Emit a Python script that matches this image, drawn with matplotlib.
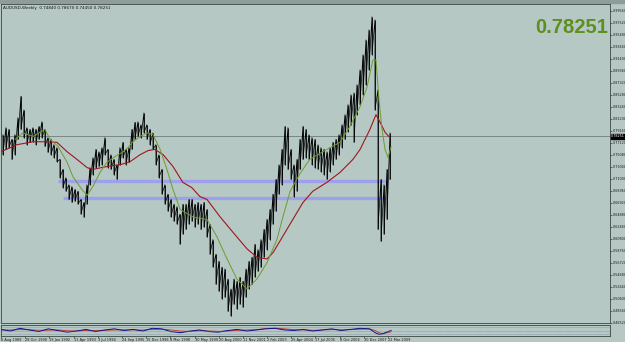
import numpy as np
import matplotlib.pyplot as plt

# MT4-ish colours
BG_COLOR = '#b5c8c4'
FRAME_COLOR = '#8e9d9b'
BAR_COLOR = '#000000'
FAST_MA_COLOR = '#6f9a2e'
SLOW_MA_COLOR = '#a0161c'
LEVEL_COLOR = '#9d9cf0'
BIG_PRICE_COLOR = '#5e8f1f'

# weekly AUDUSD, sampled roughly every 8 weeks from 6 Aug 1989 (week 0)
bar_high = [0.785, 0.797, 0.794, 0.777, 0.785, 0.814, 0.850, 0.827, 0.797, 0.794,
            0.797, 0.794, 0.799, 0.807, 0.794, 0.780, 0.777, 0.768, 0.763, 0.743,
            0.726, 0.712, 0.700, 0.697, 0.692, 0.689, 0.675, 0.670, 0.700, 0.729,
            0.746, 0.760, 0.756, 0.763, 0.780, 0.760, 0.751, 0.743, 0.734, 0.763,
            0.772, 0.760, 0.763, 0.794, 0.806, 0.807, 0.802, 0.822, 0.802, 0.794,
            0.788, 0.768, 0.751, 0.726, 0.700, 0.684, 0.675, 0.667, 0.663, 0.650,
            0.667, 0.667, 0.675, 0.675, 0.667, 0.670, 0.667, 0.670, 0.658, 0.633,
            0.607, 0.582, 0.570, 0.560, 0.557, 0.540, 0.523, 0.540, 0.536, 0.543,
            0.536, 0.557, 0.570, 0.577, 0.599, 0.590, 0.607, 0.624, 0.641, 0.658,
            0.684, 0.709, 0.734, 0.760, 0.799, 0.797, 0.760, 0.734, 0.743, 0.777,
            0.799, 0.794, 0.785, 0.780, 0.777, 0.768, 0.763, 0.760, 0.756, 0.763,
            0.772, 0.777, 0.785, 0.802, 0.819, 0.836, 0.853, 0.856, 0.870, 0.895,
            0.921, 0.946, 0.963, 0.985, 0.980, 0.861, 0.709, 0.700, 0.726, 0.788]
bar_low = [0.751, 0.760, 0.763, 0.743, 0.751, 0.777, 0.794, 0.780, 0.768, 0.772,
           0.773, 0.768, 0.777, 0.780, 0.765, 0.755, 0.751, 0.746, 0.739, 0.712,
           0.695, 0.689, 0.675, 0.670, 0.672, 0.667, 0.650, 0.645, 0.667, 0.700,
           0.717, 0.729, 0.731, 0.734, 0.751, 0.729, 0.726, 0.717, 0.709, 0.734,
           0.746, 0.734, 0.738, 0.760, 0.777, 0.782, 0.780, 0.788, 0.777, 0.768,
           0.760, 0.734, 0.712, 0.684, 0.667, 0.655, 0.645, 0.638, 0.633, 0.599,
           0.616, 0.624, 0.633, 0.638, 0.628, 0.633, 0.624, 0.628, 0.611, 0.582,
           0.560, 0.531, 0.519, 0.506, 0.509, 0.485, 0.477, 0.497, 0.489, 0.497,
           0.492, 0.509, 0.523, 0.531, 0.543, 0.553, 0.560, 0.577, 0.590, 0.607,
           0.633, 0.655, 0.684, 0.700, 0.734, 0.726, 0.709, 0.680, 0.689, 0.726,
           0.743, 0.746, 0.743, 0.734, 0.729, 0.726, 0.722, 0.717, 0.709, 0.722,
           0.734, 0.743, 0.751, 0.763, 0.777, 0.790, 0.802, 0.772, 0.819, 0.836,
           0.853, 0.870, 0.895, 0.921, 0.827, 0.624, 0.604, 0.616, 0.641, 0.709]
first_bar_week, last_bar_week = 5, 1029

# fast (green) and slow (red) moving averages
fast_ma_week = [37, 58, 85, 116, 130, 151, 175, 190, 214, 228, 243, 262, 280, 302, 323,
                336, 349, 368, 386, 402, 421, 439, 455, 474, 508, 545, 571, 598, 624,
                651, 677, 704, 730, 746, 765, 791, 817, 862, 897, 923, 950, 968, 984,
                992, 1000, 1008, 1016, 1024, 1032]
fast_ma = [0.777, 0.788, 0.782, 0.794, 0.777, 0.765, 0.738, 0.714, 0.692, 0.682, 0.697,
           0.721, 0.738, 0.748, 0.756, 0.763, 0.773, 0.782, 0.788, 0.785, 0.760, 0.726,
           0.692, 0.658, 0.645, 0.641, 0.612, 0.574, 0.540, 0.523, 0.540, 0.568, 0.607,
           0.646, 0.689, 0.719, 0.743, 0.760, 0.772, 0.799, 0.833, 0.865, 0.912, 0.912,
           0.844, 0.794, 0.760, 0.746, 0.765]
slow_ma_week = [0, 42, 85, 122, 148, 175, 201, 228, 243, 280, 315, 341, 368, 389, 407,
                429, 455, 481, 505, 526, 545, 579, 614, 651, 677, 704, 720, 746, 772,
                799, 825, 862, 897, 931, 950, 976, 992, 1003, 1016, 1029]
slow_ma = [0.756, 0.768, 0.773, 0.773, 0.772, 0.756, 0.743, 0.729, 0.726, 0.731, 0.734,
           0.739, 0.751, 0.758, 0.760, 0.751, 0.731, 0.704, 0.695, 0.680, 0.675, 0.646,
           0.619, 0.591, 0.577, 0.574, 0.585, 0.613, 0.641, 0.670, 0.689, 0.704, 0.721,
           0.743, 0.760, 0.794, 0.819, 0.806, 0.789, 0.780]

# two horizontal support bands (price, start week, end week)
level_price = [0.7057, 0.6776]
level_start = [151, 164]
level_end = [1016, 1021]

last_price = 0.78251
chart_title = "AUDUSD,Weekly  0.74840 0.78670 0.74450 0.78251"

price_ticks = ['0.46520', '0.48560', '0.50600', '0.52640', '0.54680', '0.56720', '0.58760',
               '0.60800', '0.62840', '0.64880', '0.66920', '0.68960', '0.71000', '0.73040',
               '0.75080', '0.77120', '0.79160', '0.81200', '0.83240', '0.85280', '0.87320',
               '0.89360', '0.91400', '0.93440', '0.95480', '0.97520', '0.99560']
date_ticks = ['6 Aug 1989', '28 Oct 1990', '19 Jan 1992', '11 Apr 1993', '3 Jul 1994',
              '24 Sep 1995', '15 Dec 1996', '8 Mar 1998', '30 May 1999', '20 Aug 2000',
              '11 Nov 2001', '2 Feb 2003', '25 Apr 2004', '17 Jul 2005', '8 Oct 2006',
              '30 Dec 2007', '22 Mar 2009']
date_tick_step = 64  # weeks between date labels

# oscillator in the lower sub-window
osc_week = [0, 25, 50, 75, 100, 125, 150, 175, 200, 225, 250, 275, 300, 325, 350, 375,
            400, 425, 450, 475, 500, 525, 550, 575, 600, 625, 650, 675, 700, 725, 750,
            775, 800, 825, 850, 875, 900, 925, 950, 975, 990, 1000, 1010, 1020, 1032]
osc_blue = [60, 45, 70, 55, 40, 65, 50, 35, 45, 60, 40, 55, 65, 50, 60, 45, 70, 65, 40, 30,
            45, 55, 40, 35, 50, 60, 45, 55, 65, 70, 55, 50, 60, 45, 55, 65, 50, 60, 70, 65,
            30, 15, 20, 35, 50]
osc_red = [55, 55, 58, 57, 52, 53, 55, 48, 46, 50, 50, 52, 55, 56, 55, 54, 60, 62, 55, 45,
           42, 48, 46, 42, 45, 52, 55, 58, 68, 72, 65, 58, 55, 52, 55, 58, 56, 58, 62, 64,
           50, 30, 22, 28, 38]


def main():
    fig = plt.figure(figsize=(6.25, 3.42), dpi=100)
    fig.patch.set_facecolor(BG_COLOR)

    W, H = 625.0, 342.0
    px_per_week = 0.378
    x_right = 609 / px_per_week

    ax = fig.add_axes([1 / W, 1 - 323 / H, 609 / W, 319 / H])
    sub = fig.add_axes([1 / W, 1 - 336 / H, 609 / W, 11 / H], sharex=ax)
    for a in (ax, sub):
        a.set_facecolor(BG_COLOR)
        for s in a.spines.values():
            s.set_color('#3c4444')
            s.set_linewidth(0.6)

    # price bars
    weeks = np.linspace(first_bar_week, last_bar_week, len(bar_high))
    ax.vlines(weeks, bar_low, bar_high, color=BAR_COLOR, lw=0.6)
    zz_x = np.repeat(weeks, 2)
    zz_y = np.ravel(np.column_stack([bar_high, bar_low]))
    ax.plot(zz_x, zz_y, color=BAR_COLOR, lw=0.5)

    ax.plot(slow_ma_week, slow_ma, color=SLOW_MA_COLOR, lw=0.8)
    ax.plot(fast_ma_week, fast_ma, color=FAST_MA_COLOR, lw=0.7)

    for p, s, e in zip(level_price, level_start, level_end):
        ax.hlines(p, s, e, color=LEVEL_COLOR, lw=2.4, alpha=0.9, zorder=1)

    ax.axhline(last_price, color='#6f7d7b', lw=0.6, zorder=0)

    ax.set_xlim(0, x_right)
    ax.set_ylim(1.0137 - 0.001693 * 323, 1.0137 - 0.001693 * 4)

    ax.yaxis.tick_right()
    ax.set_yticks([float(t) for t in price_ticks])
    ax.set_yticklabels(price_ticks)
    ax.tick_params(axis='y', length=1.2, width=0.4, pad=0.5, labelsize=2.4, colors='#1a1a1a')
    ax.tick_params(axis='x', length=0, labelbottom=False)

    ax.text(0.004, 0.994, chart_title, transform=ax.transAxes, fontsize=3.0,
            va='top', ha='left', color='#111111')
    ax.text(0.9975, 0.925, f'{last_price:.5f}', transform=ax.transAxes, fontsize=14.5,
            fontweight='bold', color=BIG_PRICE_COLOR, ha='right', va='center',
            family='Liberation Sans')
    ax.text(1.002, last_price, f'{last_price:.5f}', transform=ax.get_yaxis_transform(),
            fontsize=2.4, color='white', va='center', ha='left',
            bbox=dict(boxstyle='square,pad=0.15', fc='black', ec='black'))

    # lower oscillator window
    sub.plot(osc_week, osc_red, color='#c23030', lw=0.6)
    sub.plot(osc_week, osc_blue, color='#10108a', lw=0.7)
    for lvl in (20, 50, 80):
        sub.axhline(lvl, color='#6f7d9a', lw=0.4, ls=(0, (1, 1)))
    sub.set_ylim(0, 100)
    sub.set_yticks([])
    sub.tick_params(axis='y', length=0)
    sub.set_xticks([k * date_tick_step for k in range(len(date_ticks))])
    sub.set_xticklabels(date_ticks, ha='left')
    sub.tick_params(axis='x', length=1.2, width=0.4, pad=0.5, labelsize=2.5,
                    colors='#1a1a1a')

    # MT4 window frame
    fig.patches.append(plt.Rectangle((0, 1 - 3 / H), 1, 3 / H, transform=fig.transFigure,
                                     color=FRAME_COLOR, zorder=-1))

    plt.savefig('out.png', dpi=100, facecolor=BG_COLOR)


if __name__ == '__main__':
    main()
